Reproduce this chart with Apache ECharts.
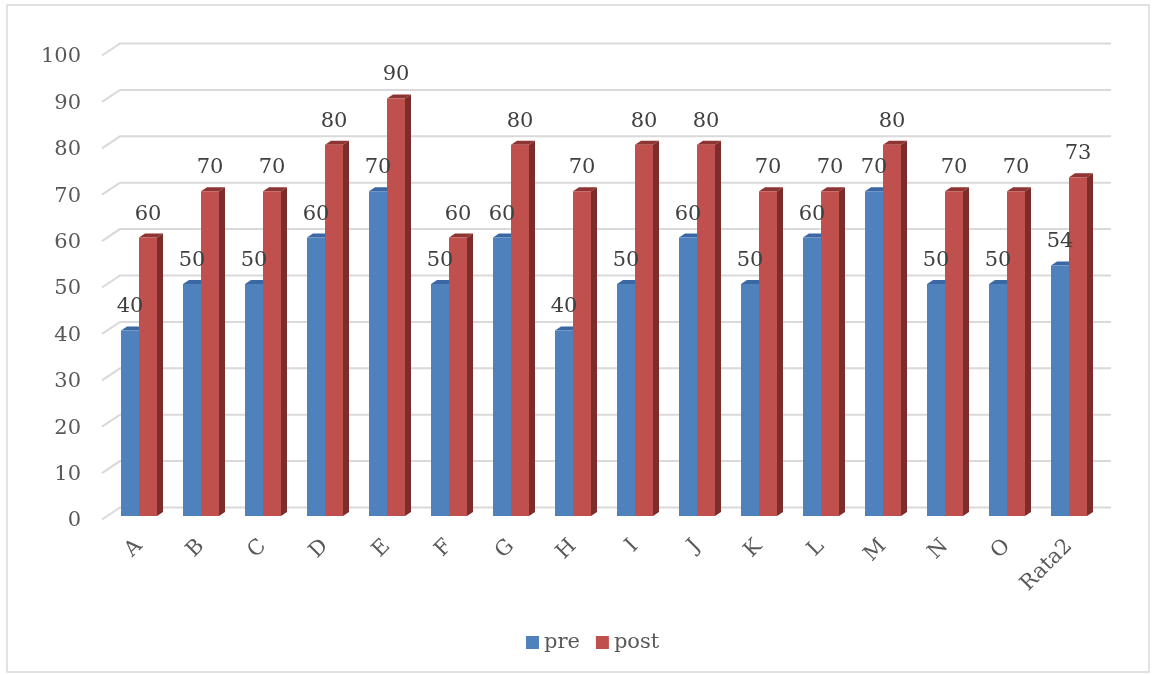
<!DOCTYPE html>
<html>
<head>
<meta charset="utf-8">
<title>pre / post</title>
<script src="https://cdn.jsdelivr.net/npm/echarts@6/dist/echarts.min.js"></script>
<style>
  html, body { margin: 0; padding: 0; background: #ffffff; }
  #chart { width: 1153px; height: 675px; }
</style>
</head>
<body>
<div id="chart"></div>
<script>
// Categories and scores
const categories = ['A', 'B', 'C', 'D', 'E', 'F', 'G', 'H', 'I', 'J', 'K', 'L', 'M', 'N', 'O', 'Rata2'];
const preValues  = [40, 50, 50, 60, 70, 50, 60, 40, 50, 60, 50, 60, 70, 50, 50, 54];
const postValues = [60, 70, 70, 80, 90, 60, 80, 70, 80, 80, 70, 70, 80, 70, 70, 73];
const seriesNames = ['pre', 'post'];
// Value axis ticks
const yMin = 0;
const yMax = 100;
const yInterval = 10;
const yTicks = [0, 10, 20, 30, 40, 50, 60, 70, 80, 90, 100];

const FONT = '"DejaVu Serif", "Liberation Serif", serif';
const BAR_W = 18;      // front face width of each column
const DX = 6, DY = 4;  // column depth offset
const WALL_DX = 18, WALL_DY = 12; // wall depth offset for gridlines

const colors = {
  pre:  { front: '#4F81BD', top: '#3B67A2', side: '#2F5486' },
  post: { front: '#C0504D', top: '#8E3533', side: '#7C2C2A' }
};

// Top and side faces of a column, drawn from the axis scale
function columnFaces(sideSign, pal) {
  return function (params, api) {
    const i = api.value(0), v = api.value(1);
    const top = api.coord([i, v]);
    const base = api.coord([i, 0]);
    const cx = top[0];
    const x0 = sideSign < 0 ? cx - BAR_W : cx;
    const x1 = x0 + BAR_W;
    const yt = top[1], yb = base[1];
    return {
      type: 'group',
      children: [
        { type: 'polygon', shape: { points: [[x0, yt], [x0 + DX, yt - DY], [x1 + DX, yt - DY], [x1, yt]] },
          style: { fill: pal.top } },
        { type: 'polygon', shape: { points: [[x1, yt], [x1 + DX, yt - DY], [x1 + DX, yb - DY], [x1, yb]] },
          style: { fill: pal.side } }
      ]
    };
  };
}

// Gridlines bent back onto the wall
function wallLine(params, api) {
  const v = api.value(1);
  const p = api.coord([0, v]);
  const cs = params.coordSys;
  const y = p[1];
  const left = cs.x - 6;
  return {
    type: 'polyline',
    shape: { points: [
      [left, y + 3.5],
      [left + WALL_DX, y + 3.5 - WALL_DY],
      [cs.x + cs.width + 11, y + 3.5 - WALL_DY]
    ] },
    style: { stroke: '#D9D9D9', lineWidth: 2, fill: null }
  };
}

const chart = echarts.init(document.getElementById('chart'));

const barLabel = {
  show: true,
  position: 'top',
  distance: 13,
  fontFamily: FONT,
  fontSize: 21,
  color: '#404040'
};

chart.setOption({
  backgroundColor: '#ffffff',
  animation: false,
  graphic: [{
    type: 'rect',
    shape: { x: 7, y: 5, width: 1142, height: 667 },
    style: { fill: null, stroke: '#D9D9D9', lineWidth: 1.5 },
    silent: true,
    z: -10
  }],
  grid: { left: 108, right: 53, top: 52, bottom: 159, containLabel: false },
  legend: {
    data: seriesNames,
    left: 521,
    bottom: 17,
    icon: 'rect',
    itemWidth: 13,
    itemHeight: 13,
    itemGap: 16,
    textStyle: { fontFamily: FONT, fontSize: 21, color: '#595959' }
  },
  xAxis: {
    type: 'category',
    data: categories,
    axisLine: { show: false },
    axisTick: { show: false },
    axisLabel: {
      interval: 0,
      rotate: 45,
      margin: 27,
      fontFamily: FONT,
      fontSize: 21,
      color: '#595959'
    }
  },
  yAxis: {
    type: 'value',
    min: yMin,
    max: yMax,
    interval: yInterval,
    axisLine: { show: false },
    axisTick: { show: false },
    splitLine: { show: false },
    axisLabel: {
      margin: 27,
      verticalAlign: 'top',
      lineHeight: 10,
      fontFamily: FONT,
      fontSize: 21,
      color: '#595959'
    }
  },
  series: [
    {
      type: 'custom',
      name: 'grid',
      renderItem: wallLine,
      data: yTicks.map(t => [0, t]),
      clip: false,
      silent: true,
      z: 1
    },
    {
      type: 'custom',
      name: 'pre3d',
      renderItem: columnFaces(-1, colors.pre),
      data: preValues.map((v, i) => [i, v]),
      clip: false,
      silent: true,
      z: 2
    },
    {
      type: 'custom',
      name: 'post3d',
      renderItem: columnFaces(1, colors.post),
      data: postValues.map((v, i) => [i, v]),
      clip: false,
      silent: true,
      z: 4
    },
    {
      type: 'bar',
      name: 'pre',
      data: preValues,
      barWidth: BAR_W,
      barGap: '0%',
      itemStyle: { color: colors.pre.front },
      label: barLabel,
      z: 6
    },
    {
      type: 'bar',
      name: 'post',
      data: postValues,
      barWidth: BAR_W,
      barGap: '0%',
      itemStyle: { color: colors.post.front },
      label: barLabel,
      z: 5
    }
  ]
});
</script>
</body>
</html>
